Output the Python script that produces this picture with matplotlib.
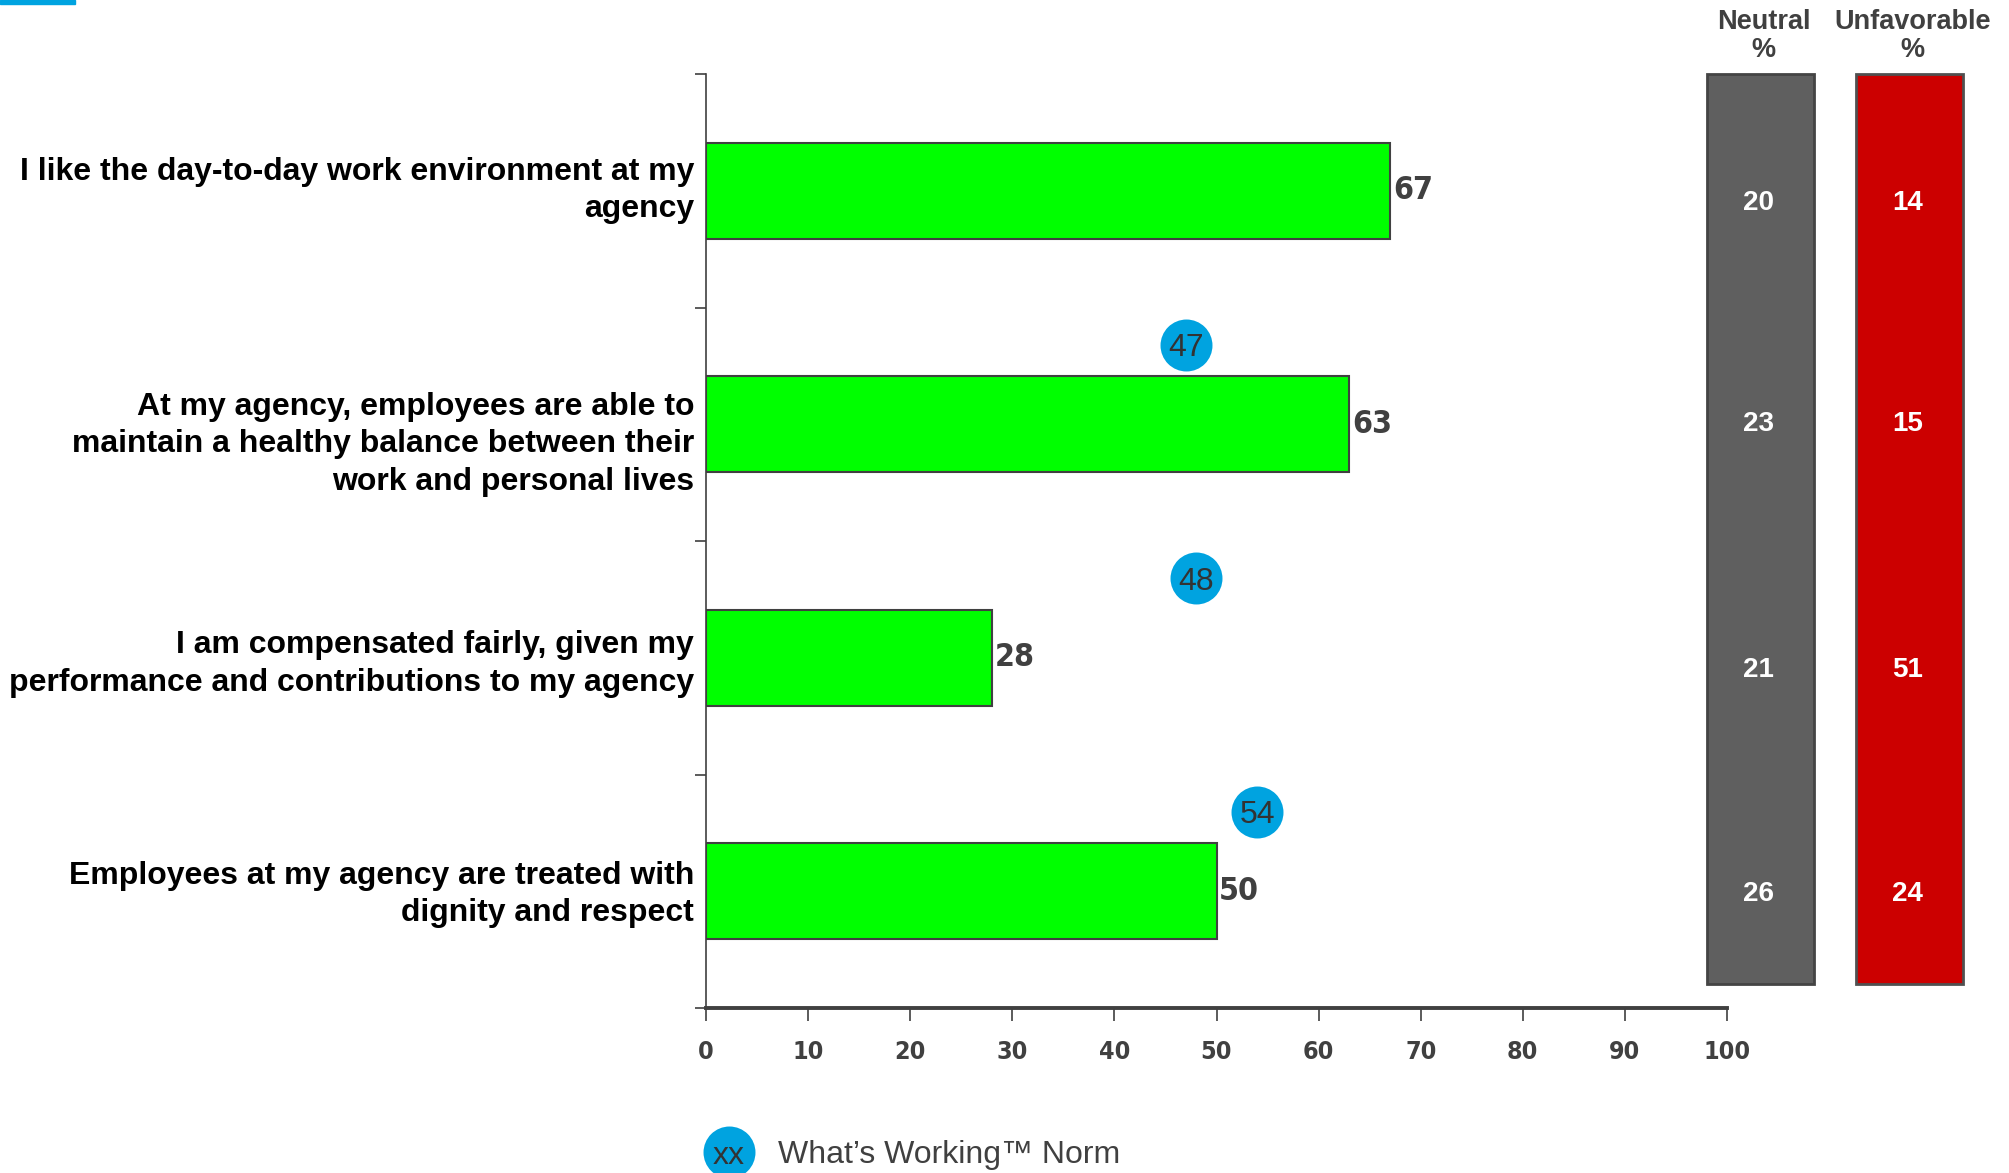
import matplotlib
matplotlib.use("Agg")
import matplotlib.pyplot as plt
from matplotlib import font_manager
from matplotlib.font_manager import FontProperties
from matplotlib.patches import Rectangle

# ---- data -------------------------------------------------------------
statements = [
    "I like the day-to-day work environment at my\nagency",
    "At my agency, employees are able to\nmaintain a healthy balance between their\nwork and personal lives",
    "I am compensated fairly, given my\nperformance and contributions to my agency",
    "Employees at my agency are treated with\ndignity and respect",
]
favorable = [67, 63, 28, 50]
norm = [None, 47, 48, 54]
neutral = [20, 23, 21, 26]
unfavorable = [14, 15, 51, 24]
x_ticks = [0, 10, 20, 30, 40, 50, 60, 70, 80, 90, 100]

# ---- styling ----------------------------------------------------------
GREEN = "#00ff00"
BLUE = "#00a3e0"
DARK = "#404040"
GREY_COL = "#5f5f5f"
RED_COL = "#cc0000"

# vertical nudges (points) for the statement text blocks and column values
LABEL_NUDGE = [0, -14.5, -4.5, -2.5]
COLUMN_NUDGE = [-8.5, 0, -8.5, -2]


def narrow_font():
    """Pick a bold condensed face if one is installed."""
    narrow_stretch = {"condensed", "semi-condensed", "extra-condensed",
                      "ultra-condensed"}
    best = None
    for f in font_manager.fontManager.ttflist:
        is_narrow = (f.stretch in narrow_stretch
                     or (isinstance(f.stretch, int) and f.stretch < 500)
                     or "Narrow" in f.name or "Condensed" in f.name)
        if not is_narrow:
            continue
        w = f.weight if isinstance(f.weight, int) else (
            700 if "bold" in str(f.weight) else 400)
        italic = f.style != "normal"
        score = (not italic, w >= 600, "Liberation" in f.name)
        if best is None or score > best[0]:
            best = (score, f.fname)
    if best is not None:
        return dict(fontproperties=FontProperties(fname=best[1]))
    return dict(family="DejaVu Sans", weight="bold")


NARROW = narrow_font()
names = {f.name for f in font_manager.fontManager.ttflist}
SANS = "Liberation Sans" if "Liberation Sans" in names else "DejaVu Sans"
plt.rcParams["font.family"] = [SANS, "DejaVu Sans"]

W, H = 2009, 1173
fig = plt.figure(figsize=(W / 100, H / 100), dpi=100)


def frac_rect(x0, y0, x1, y1):
    """Pixel box (top-left origin) -> figure fraction rect."""
    return [x0 / W, 1 - y1 / H, (x1 - x0) / W, (y1 - y0) / H]


AX_TOP, AX_BOT = 74, 1008
ax = fig.add_axes(frac_rect(706, AX_TOP, 1727, AX_BOT))

n = len(statements)
centers = [n - 0.5 - i for i in range(n)]

ax.barh(centers, favorable, height=0.41, color=GREEN,
        edgecolor=DARK, linewidth=1.5, zorder=2)
for c, v in zip(centers, favorable):
    t = ax.annotate(f"{v}", (v, c), xytext=(2, 0), textcoords="offset points",
                    ha="left", va="center", color=DARK, **NARROW)
    t.set_fontsize(23)

# norm markers
for c, v in zip(centers, norm):
    if v is None:
        continue
    ax.scatter([v], [c + 0.34], s=1400, color=BLUE, zorder=3, linewidths=0)
    ax.text(v, c + 0.34, f"{v}", ha="center", va="center_baseline",
            fontsize=23, color="#333333", zorder=4)

ax.set_xlim(0, 100)
ax.set_ylim(0, n)
ax.set_xticks(x_ticks)
tick_texts = ax.set_xticklabels([str(t) for t in x_ticks], color=DARK, **NARROW)
for t in tick_texts:
    t.set_fontsize(18)
ax.tick_params(axis="x", direction="out", length=9, width=1.2,
               color=DARK, pad=14)

# band boundaries as ticks; statements drawn beside each band
ax.set_yticks(range(n + 1))
ax.set_yticklabels([])
ax.tick_params(axis="y", direction="out", length=8, width=1.2, color=DARK)
for c, text, dy in zip(centers, statements, LABEL_NUDGE):
    ax.annotate(text, (0, c), xycoords=("axes fraction", "data"),
                xytext=(-8.5, dy), textcoords="offset points",
                ha="right", va="center", fontsize=23, fontweight="bold",
                color="black", linespacing=1.32, annotation_clip=False)

for s in ("top", "right"):
    ax.spines[s].set_visible(False)
ax.spines["left"].set_color(DARK)
ax.spines["left"].set_linewidth(1.2)
ax.spines["bottom"].set_color(DARK)
ax.spines["bottom"].set_linewidth(2.8)

# ---- neutral / unfavorable columns -----------------------------------
col_bottom = n * (AX_BOT - 984) / (AX_BOT - AX_TOP)
columns = [
    ("Neutral\n%", neutral, GREY_COL, "#444444", 1707, 1814),
    ("Unfavorable\n%", unfavorable, RED_COL, "#505050", 1856, 1963),
]
for title, vals, face, edge, x0, x1 in columns:
    cax = fig.add_axes(frac_rect(x0, AX_TOP, x1, AX_BOT))
    cax.set_xlim(0, 1)
    cax.set_ylim(0, n)
    cax.axis("off")
    cax.bar(0.5, n - col_bottom, bottom=col_bottom, width=1.0, color=face,
            edgecolor=edge, linewidth=2, clip_on=False)
    for c, v, dy in zip(centers, vals, COLUMN_NUDGE):
        cax.annotate(f"{v}", (0.5, c), xytext=(-1.5, dy),
                     textcoords="offset points", ha="center", va="center",
                     fontsize=20, fontweight="bold", color="white")
    fig.text((x0 + x1) / 2 / W + 3 / W, 1 - 36 / H, title, ha="center",
             va="center", fontsize=19.5, fontweight="bold", color=DARK,
             linespacing=1.1)

# ---- legend ------------------------------------------------------------
lx, ly = 729 / W, 1 - 1152 / H
ax.scatter([lx], [ly], s=1400, color=BLUE, transform=fig.transFigure,
           clip_on=False, linewidths=0)
fig.text(lx, ly, "xx", ha="center", va="center_baseline", fontsize=23,
         color="#333333")
fig.text(778 / W, ly, "What\u2019s Working\u2122 Norm", ha="left",
         va="center_baseline", fontsize=23, color=DARK)

# accent stripe in the top-left corner
fig.patches.append(Rectangle((0, 1 - 4 / H), 75 / W, 4 / H,
                             transform=fig.transFigure, color=BLUE))

fig.savefig("out.png", dpi=100)
